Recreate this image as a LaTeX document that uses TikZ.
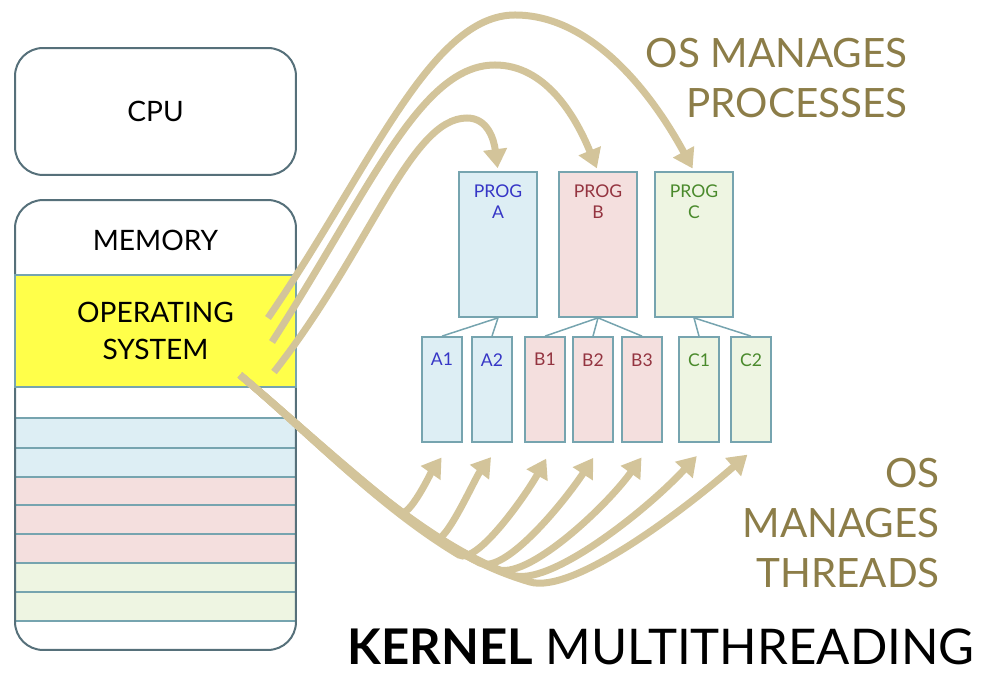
\documentclass[tikz,border=0pt]{standalone}
\usepackage{fontspec}
\setmainfont{Lato}
\usetikzlibrary{arrows.meta}
\definecolor{boxedge}{HTML}{56707A}
\definecolor{rowedge}{HTML}{76A4AF}
\definecolor{osyellow}{HTML}{FFFF4A}
\definecolor{afill}{HTML}{DDEEF4}
\definecolor{bfill}{HTML}{F4DFDE}
\definecolor{cfill}{HTML}{EEF5E2}
\definecolor{atext}{HTML}{3636C6}
\definecolor{btext}{HTML}{943440}
\definecolor{ctext}{HTML}{4A8A2C}
\definecolor{arrowtan}{HTML}{D3C49A}
\definecolor{notetext}{HTML}{8C7D48}
\tikzset{
  membox/.style={draw=boxedge, line width=0.04cm, rounded corners=0.56cm, minimum width=5.62cm, inner sep=0pt},
  progbox/.style={draw=rowedge, line width=0.035cm, minimum width=1.56cm, minimum height=2.9cm, inner sep=0pt},
  threadbox/.style={draw=rowedge, line width=0.035cm, minimum width=0.8cm, minimum height=2.1cm, inner sep=0pt},
  tree/.style={draw=rowedge, line width=0.03cm},
  procarrow/.style={draw=arrowtan, line width=0.14cm, shorten >=0.06cm, -{Triangle[length=0.38cm,width=0.46cm]}},
  threadarrow/.style={procarrow, shorten >=0.36cm},
  note/.style={text=notetext, font=\fontsize{23}{28.5}\selectfont, align=right, anchor=east, inner sep=0pt},
}
\begin{document}
\begin{tikzpicture}[x=0.02cm, y=-0.02cm]
\useasboundingbox (0,0) rectangle (1008,688);
% memory rows
\fill[afill] (15,418) rectangle (296,477);
\fill[bfill] (15,477) rectangle (296,563);
\fill[cfill] (15,563) rectangle (296,621);
\foreach \y in {418,448,477,505,534,563,592,621}
  \draw[rowedge, line width=0.04cm] (15,\y) -- (296,\y);
\node[membox, minimum height=2.54cm, font=\fontsize{16}{19}\selectfont] (cpu) at (155.5,111.5){CPU};
\node[membox, minimum height=9cm] (mem) at (155.5,425){};
\node[font=\fontsize{16}{19}\selectfont] (memlabel) at (155.5,240){MEMORY};
\node[draw=rowedge, line width=0.04cm, fill=osyellow, minimum width=5.62cm, minimum height=2.24cm, align=center, font=\fontsize{16}{21}\selectfont] (os) at (155.5,331){OPERATING\\SYSTEM};
\coordinate (os1) at (268,318);
\coordinate (os2) at (272,342);
\coordinate (os3) at (274,372);
\coordinate (os4) at (240,375);
% programs
\node[progbox, fill=afill, label={[anchor=north, yshift=-0.15cm, align=center, text=atext, font=\fontsize{10}{12}\selectfont]north:PROG\\A}] (progA) at (498,244.5){};
\node[progbox, fill=bfill, label={[anchor=north, yshift=-0.15cm, align=center, text=btext, font=\fontsize{10}{12}\selectfont]north:PROG\\B}] (progB) at (598,244.5){};
\node[progbox, fill=cfill, label={[anchor=north, yshift=-0.15cm, align=center, text=ctext, font=\fontsize{10}{12}\selectfont]north:PROG\\C}] (progC) at (694,244.5){};
% threads
\foreach \n/\x/\c in {a1/442/a, a2/492/a, b1/545/b, b2/593/b, b3/642/b, c1/699/c, c2/751/c}
  \node[threadbox, fill=\c fill, label={[anchor=north, yshift=-0.22cm, text=\c text, font=\fontsize{10}{12}\selectfont]north:\MakeUppercase{\n}}] (\n) at (\x,389.5){};
\draw[tree] (progA.south) -- (a1.north);
\draw[tree] (progA.south) -- (a2.north);
\draw[tree] (progB.south) -- (b1.north);
\draw[tree] (progB.south) -- (b2.north);
\draw[tree] (progB.south) -- (b3.north);
\draw[tree] (progC.south) -- (c1.north);
\draw[tree] (progC.south) -- (c2.north);
% os manages processes
\draw[procarrow] (os1) .. controls (370,170) and (430,15) .. (515,15) .. controls (590,15) and (650,90) .. (progC.north);
\draw[procarrow] (os2) .. controls (370,190) and (420,65) .. (495,65) .. controls (545,65) and (575,115) .. (progB.north);
\draw[procarrow] (os3) .. controls (370,250) and (410,118) .. (467,118) .. controls (488,118) and (494,140) .. (progA.north);
% os manages threads
\draw[threadarrow] (os4) .. controls (293,420) and (346,468) .. (401,512) .. controls (409,518) and (432,471) .. ([xshift=0.2cm]a1.south);
\draw[threadarrow] (os4) .. controls (305,429) and (367,490) .. (435,539) .. controls (445,546) and (475,478) .. ([xshift=0.2cm]a2.south);
\draw[threadarrow] (os4) .. controls (312,436) and (379,507) .. (459,555) .. controls (477,565) and (526,495) .. ([xshift=0.2cm]b1.south);
\draw[threadarrow] (os4) .. controls (316,439) and (393,519) .. (480,563) .. controls (505,575) and (565,501) .. ([xshift=0.2cm]b2.south);
\draw[threadarrow] (os4) .. controls (320,442) and (403,528) .. (496,569) .. controls (526,582) and (606,507) .. ([xshift=0.2cm]b3.south);
\draw[threadarrow] (os4) .. controls (324,445) and (412,537) .. (512,575) .. controls (548,588) and (645,512) .. ([xshift=0.2cm]c1.south);
\draw[threadarrow] (os4) .. controls (331,452) and (417,549) .. (530,582) .. controls (572,594) and (678,515) .. ([xshift=0.2cm]c2.south);
\node[note] (procnote) at (908,78){OS MANAGES\\PROCESSES};
\node[note] (threadnote) at (940,523){OS\\MANAGES\\THREADS};
\node[font=\fontsize{28}{34}\selectfont, inner sep=0pt] (title) at (661,647){\textbf{KERNEL} MULTITHREADING};
\end{tikzpicture}
\end{document}
